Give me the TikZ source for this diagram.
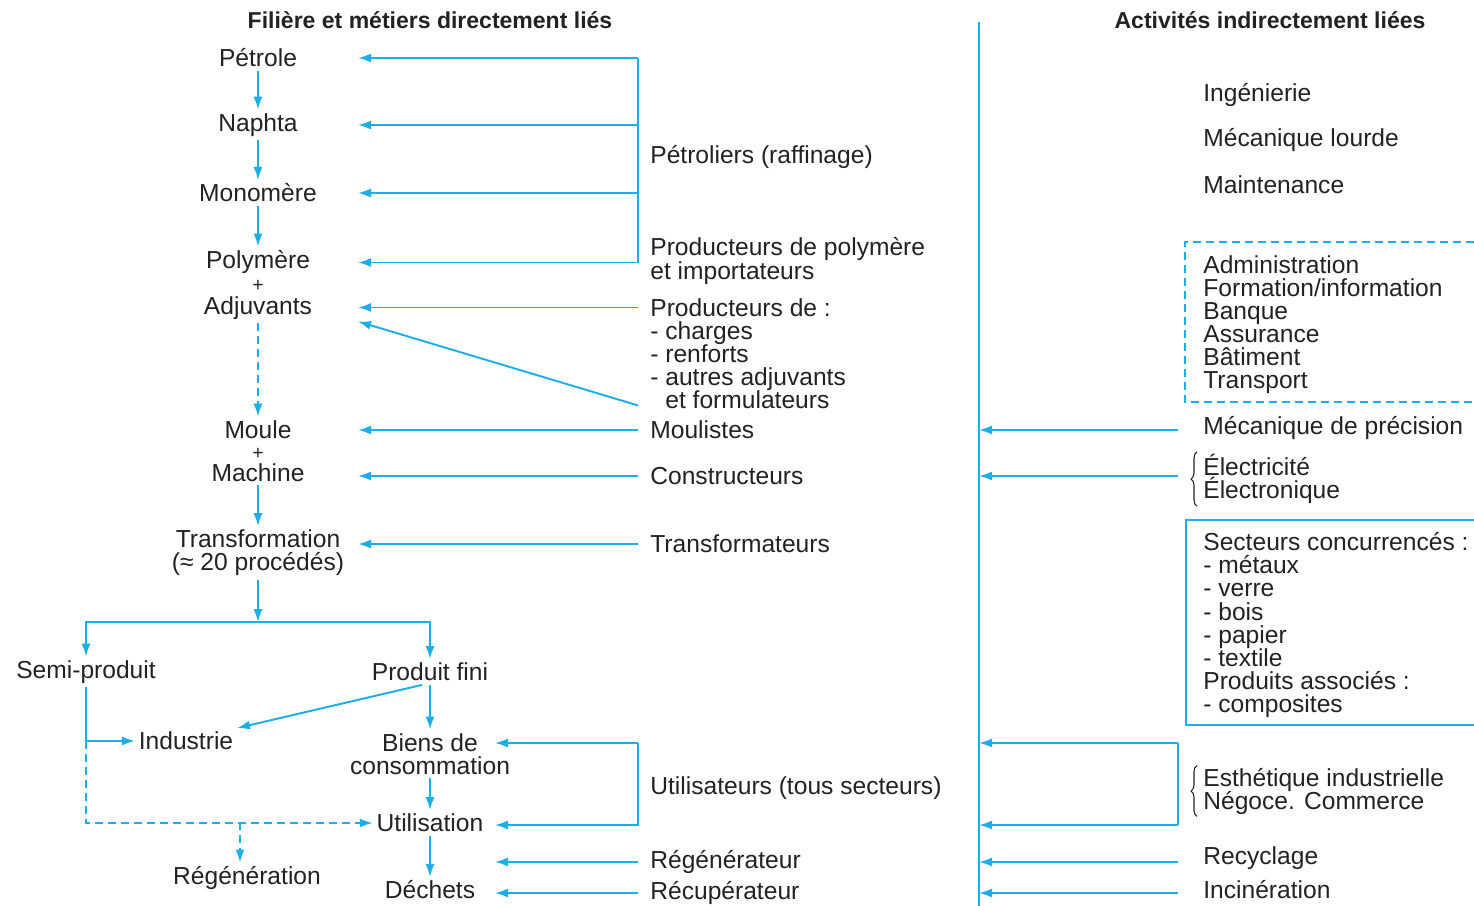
\documentclass[tikz,border=0pt]{standalone}
\usepackage{fontspec}
\setmainfont{Liberation Sans}
\usepackage{tikz}
\usetikzlibrary{arrows.meta, positioning, calc, decorations.pathreplacing}
\definecolor{FL_CYAN}{HTML}{1BAEE8}
\definecolor{FL_TEXT}{HTML}{222222}
\newcommand{\flfont}{\fontsize{14}{13.1}\selectfont\lineskiplimit=-20pt\relax}
\newcommand{\flplus}{{\fontsize{11}{11}\selectfont +}}
\tikzset{
  lbl/.style={
    inner sep=2pt, align=center,
    text=FL_TEXT, font=\flfont},
  lblw/.style={
    lbl, inner sep=0pt, anchor=west, align=left},
  head/.style={
    inner sep=0pt, text=FL_TEXT, font=\bfseries\fontsize{13.1}{13.1}\selectfont},
  arr/.style={-{Latex[length=2.6mm,width=1.8mm]}, line width=1.1pt, color=FL_CYAN},
  lnk/.style={line width=1.1pt, color=FL_CYAN},
  darr/.style={arr, dash pattern=on 1.6mm off 1mm},
  dlnk/.style={lnk, dash pattern=on 1.6mm off 1mm},
  brc/.style={decorate, decoration={brace, amplitude=1.2mm}, line width=0.6pt, color=FL_TEXT},
}

\begin{document}
\begin{tikzpicture}[x=0.02cm, y=-0.02cm]
  \useasboundingbox (0,0) rectangle (1474,906);

  % headings
  \node[head] (hdL) at (430,20) {Filière et métiers directement liés};
  \node[head] (hdR) at (1270,20) {Activités indirectement liées};

  % column helpers
  \coordinate (tipL) at (358,0);
  \coordinate (tipB) at (495,0);
  \coordinate (brL) at (638,0);
  \coordinate (brR) at (1178,0);
  \coordinate (spTop) at (979,22);
  \coordinate (spBot) at (979,906);
  \coordinate (uTop) at (638,743);
  \coordinate (uBot) at (638,825);

  % main chain
  \node[lbl] (petrole) at (258,58) {Pétrole};
  \node[lbl] (naphta) at (258,125) {Naphta};
  \node[lbl] (mono) at (258,193) {Monomère};
  \node[lbl] (polyadj) at (258,285) {Polymère\\\flplus\\Adjuvants};
  \coordinate (poly) at ($(polyadj.north)+(0,16)$);
  \coordinate (adjuv) at ($(polyadj.south)+(0,-16)$);
  \node[lbl, font=\fontsize{14}{12.2}\selectfont] (moule) at (258,451) {Moule\\\flplus\\Machine};
  \node[lbl] (transfo) at (258,553) {Transformation\\(≈ 20 procédés)};
  \node[lbl] (semi) at (86,672) {Semi-produit};
  \node[lbl] (fini) at (430,672) {Produit fini};
  \node[lbl] (industrie) at (186,741) {Industrie};
  \node[lbl] (biens) at (430,754) {Biens de\\consommation};
  \node[lbl] (util) at (430,823) {Utilisation};
  \node[lbl] (regen) at (247,878) {Régénération};
  \node[lbl] (dechets) at (430,890) {Déchets};
  \coordinate (split) at (258,622);
  \coordinate (rgB) at (240,822);

  \draw[arr] (petrole) -- (naphta);
  \draw[arr] (naphta) -- (mono);
  \draw[arr] (mono) -- (polyadj);
  \draw[darr] (polyadj) -- (moule);
  \draw[arr] (moule) -- (transfo);
  \draw[arr] (transfo) -- (split);
  \draw[arr] (split) -| (semi);
  \draw[arr] (split) -| (fini);
  \draw[arr] ($(fini.south)+(-8,0)$) -- (industrie.north east);
  \draw[arr] (fini) -- (biens);
  \draw[arr] (semi.south) |- (industrie.west);
  \draw[darr] (semi |- industrie) |- (util.west);
  \draw[darr] (rgB) -- (rgB |- regen.north);
  \draw[arr] (biens) -- (util);
  \draw[arr] (util) -- (dechets);

  % trades directly linked
  \node[lblw] (petroliers) at (650,157) {Pétroliers (raffinage)};
  \node[lblw] (prodpoly) at (650,261) {Producteurs de polymère\\et importateurs};
  \node[lblw] (prodadj) at (650,354) {Producteurs de :\\- charges\\- renforts\\- autres adjuvants\\\hphantom{- }et formulateurs};
  \node[lblw] (moulistes) at (650,430) {Moulistes};
  \node[lblw] (constr) at (650,476) {Constructeurs};
  \node[lblw] (transfos) at (650,544) {Transformateurs};
  \node[lblw] (users) at (650,788) {Utilisateurs (tous secteurs)};
  \node[lblw] (regenr) at (650,862) {Régénérateur};
  \node[lblw] (recup) at (650,893) {Récupérateur};

  \draw[lnk] (petrole -| brL) -- (poly -| brL);
  \foreach \n in {petrole, naphta, mono, poly, adjuv}
    \draw[arr] (\n -| brL) -- (\n -| tipL);
  \draw[arr] ($(prodadj.south west)+(-12,-4)$) -- ($(adjuv -| tipL)+(0,14)$);
  \foreach \n in {moulistes, constr, transfos}
    \draw[arr] (\n.west -| brL) -- (\n.west -| tipL);
  \draw[arr] (uTop) -- (uBot) -- (uBot -| tipB);
  \draw[arr] (uTop) -- (uTop -| tipB);
  \foreach \n in {regenr, recup}
    \draw[arr] (\n.west -| brL) -- (\n.west -| tipB);

  % indirect activities
  \draw[lnk] (spTop) -- (spBot);
  \node[lblw] (ing) at (1203,95) {Ingénierie};
  \node[lblw] (meclourde) at (1203,140) {Mécanique lourde};
  \node[lblw] (maint) at (1203,185) {Maintenance};
  \node[lblw] (admin) at (1203,325) {Administration\\Formation/information\\Banque\\Assurance\\Bâtiment\\Transport};
  \draw[dlnk] (1474,242) -| (1185,402) -- (1474,402);
  \node[lblw] (mecprec) at (1203,428) {Mécanique de précision};
  \node[lblw] (elec) at (1203,479) {Électricité\\Électronique};
  \draw[brc] ($(elec.south west)+(-6,2)$) -- ($(elec.north west)+(-6,-2)$);
  \node[lblw] (secteurs) at (1203,625) {Secteurs concurrencés :\\- métaux\\- verre\\- bois\\- papier\\- textile\\Produits associés :\\- composites};
  \draw[lnk] (1474,520) -| (1186,725) -- (1474,725);
  \node[lblw] (esth) at (1203,791) {Esthétique industrielle\\Négoce. Commerce};
  \draw[brc] ($(esth.south west)+(-6,2)$) -- ($(esth.north west)+(-6,-2)$);
  \node[lblw] (recyc) at (1203,858) {Recyclage};
  \node[lblw] (incin) at (1203,890) {Incinération};

  \foreach \n in {moulistes, constr, regenr, recup}
    \draw[arr] (\n.west -| brR) -- (\n.west -| spTop);
  \draw[lnk] (uTop -| brR) -- (uBot -| brR);
  \draw[arr] (uTop -| brR) -- (uTop -| spTop);
  \draw[arr] (uBot -| brR) -- (uBot -| spTop);

\end{tikzpicture}
\end{document}
